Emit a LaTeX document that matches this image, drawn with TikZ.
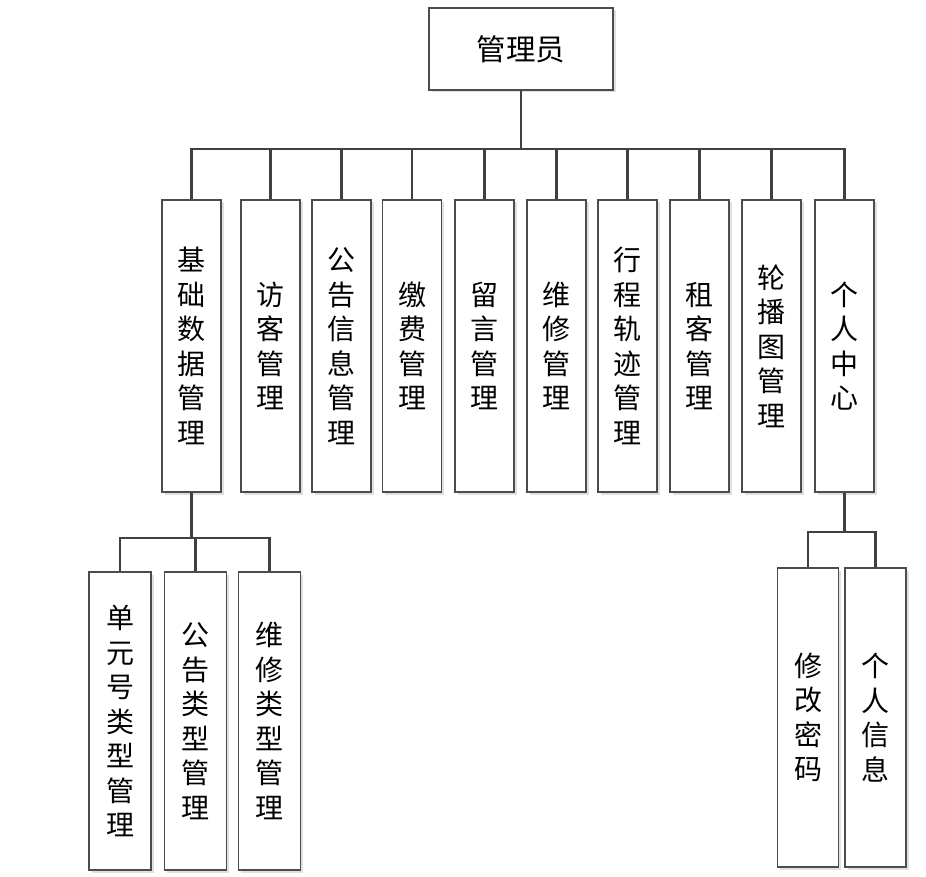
\documentclass[tikz,border=0pt]{standalone}
\usepackage{fontspec}
\newfontfamily\cjk{Noto Sans CJK SC}
\usetikzlibrary{shadows}
\begin{document}
\begin{tikzpicture}[x=1pt,y=-1pt,
  box/.style={draw=black!70, line width=1.1pt, fill=white, inner sep=0pt, align=center,
    font=\cjk\fontsize{28}{34.5}\selectfont,
    drop shadow={shadow xshift=2.5pt, shadow yshift=-2.5pt, opacity=0.12, fill=black}},
  lvl/.style={box, minimum width=59pt, minimum height=292pt},
  leaf/.style={box, minimum width=62pt, minimum height=298pt},
  conn/.style={draw=black!75, line width=2.2pt}]
\useasboundingbox (0,0) rectangle (926,877);
\node[box, minimum width=184pt, minimum height=82pt, font=\cjk\fontsize{29.5}{34.5}\selectfont] (top) at (521,49) {管理员};
\node[lvl] (b1) at (191.5,346) {基\\础\\数\\据\\管\\理};
\node[lvl] (b2) at (270.5,346) {访\\客\\管\\理};
\node[lvl] (b3) at (341.5,346) {公\\告\\信\\息\\管\\理};
\node[lvl] (b4) at (412,346) {缴\\费\\管\\理};
\node[lvl] (b5) at (484.5,346) {留\\言\\管\\理};
\node[lvl] (b6) at (556.5,346) {维\\修\\管\\理};
\node[lvl] (b7) at (627.5,346) {行\\程\\轨\\迹\\管\\理};
\node[lvl] (b8) at (699.5,346) {租\\客\\管\\理};
\node[lvl] (b9) at (771.5,346) {轮\\播\\图\\管\\理};
\node[lvl] (b10) at (844.5,346) {个\\人\\中\\心};
\node[leaf] (c1) at (120,721) {单\\元\\号\\类\\型\\管\\理};
\node[leaf] (c2) at (195.5,721) {公\\告\\类\\型\\管\\理};
\node[leaf] (c3) at (269.5,721) {维\\修\\类\\型\\管\\理};
\node[leaf, minimum width=61pt, minimum height=299pt] (d1) at (808,717.5) {修\\改\\密\\码};
\node[leaf, minimum width=61pt, minimum height=299pt] (d2) at (875.5,717.5) {个\\人\\信\\息};
\coordinate (bus) at (0,149);
\coordinate (busl) at (0,538);
\coordinate (busr) at (0,532);
\draw[conn] (top.south) -- (top.south|-bus);
\draw[conn] (b1.north) -- (b1.north|-bus) -- (b10.north|-bus) -- (b10.north);
\foreach \n in {b2,b3,b4,b5,b6,b7,b8,b9} \draw[conn] (\n.north) -- (\n.north|-bus);
\draw[conn] (b1.south) -- (b1.south|-busl);
\draw[conn] (c1.north) -- (c1.north|-busl) -- (c3.north|-busl) -- (c3.north);
\draw[conn] (c2.north) -- (c2.north|-busl);
\draw[conn] (b10.south) -- (b10.south|-busr);
\draw[conn] (d1.north) -- (d1.north|-busr) -- (d2.north|-busr) -- (d2.north);
\end{tikzpicture}
\end{document}
